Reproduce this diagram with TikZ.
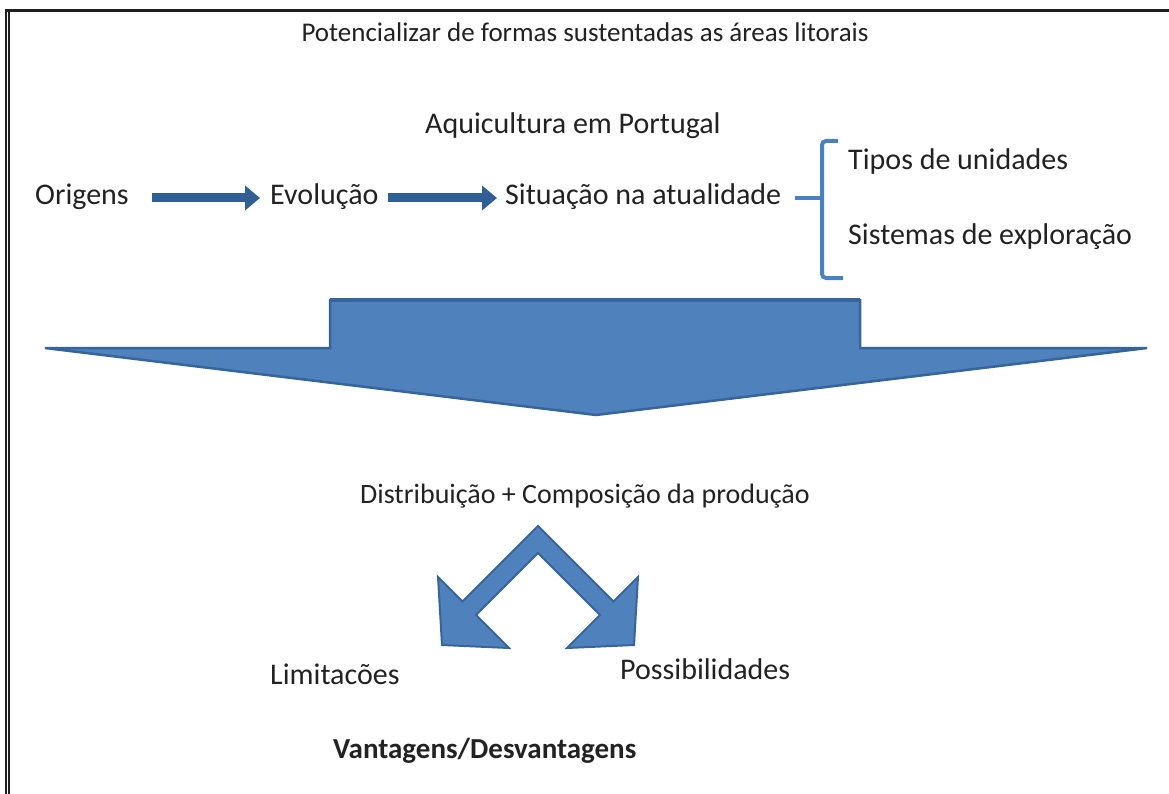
\documentclass[tikz,border=0pt]{standalone}
\usepackage{fontspec}
\setmainfont{Carlito}
\usetikzlibrary{arrows.meta}
\definecolor{bigfill}{HTML}{4F81BD}
\definecolor{bigedge}{HTML}{36659C}
\definecolor{darkarrow}{HTML}{2F5F96}
\definecolor{brkblue}{HTML}{4A80C4}
\definecolor{txt}{HTML}{222222}
\begin{document}
\begin{tikzpicture}[x=1pt,y=-1pt,
  lbl/.style={inner sep=0pt, text=txt, font=\fontsize{30}{36}\selectfont, text height=20pt, text depth=6pt, anchor=west},
  sarrow/.style={line width=9pt, draw=darkarrow, -{Triangle[length=15pt,width=24pt]}},
  brk/.style={draw=brkblue, line width=4pt},
  bigarrow/.style={fill=bigfill, draw=bigedge, line width=2.5pt, line join=miter}]
\useasboundingbox (0,0) rectangle (1169,794);
\fill[white] (0,0) rectangle (1169,794);
% frame
\draw[line width=3pt, black!88] (5,10.5) -- (1169,10.5);
\draw[line width=2pt, black!88] (6,9) -- (6,794);
\draw[line width=2pt, black!88] (9,12) -- (9,794);

% title
\node[inner sep=0pt, text=txt, font=\fontsize{27}{32}\selectfont] (title) at (585,32) {Potencializar de formas sustentadas as áreas litorais};

% top diagram
\node[lbl] (aq) at (425,127) {Aquicultura em Portugal};
\node[lbl] (orig) at (35,198) {Origens};
\node[lbl] (evol) at (270,198) {Evolução};
\node[lbl] (sit) at (505,198) {Situação na atualidade};
\node[lbl] (tipos) at (848,163) {Tipos de unidades};
\node[lbl] (sist) at (848,237) {Sistemas de exploração};

\draw[sarrow, shorten <=23pt, shorten >=10pt] (orig.east) -- (evol.west);
\draw[sarrow, shorten <=9pt, shorten >=8pt] (evol.east) -- (sit.west);

\coordinate (bk) at (822,198);
\draw[brk, rounded corners=4pt] (838,141) -- (822,141) -- (822,278) -- (843,278);
\draw[brk, shorten <=14pt] (sit.east) -- (bk);

% big arrow
\path[bigarrow] (330,300) -- (860,300) -- (860,348) -- (1147,348) -- (596,415) -- (45,348) -- (330,348) -- cycle;
\draw[draw=bigedge, line width=4pt] (330,300) -- (860,300);

% bottom part
\node[inner sep=0pt, text=txt, font=\fontsize{28}{34}\selectfont] (dist) at (585,496) {Distribuição + Composição da produção};

\path[bigarrow, line width=2pt] (538,526) -- (613.5,601.5) -- (638,577) -- (634,645) -- (567,648) -- (600,615) -- (538,553)
  -- (476,615) -- (509,648) -- (442,645) -- (438,577) -- (462.5,601.5) -- cycle;

\node[lbl] (lim) at (270,677) {Limitacões};
\node[lbl] (poss) at (620,672) {Possibilidades};
\node[lbl, font=\bfseries\fontsize{29}{35}\selectfont] (vd) at (333,751) {Vantagens/Desvantagens};
\end{tikzpicture}
\end{document}
